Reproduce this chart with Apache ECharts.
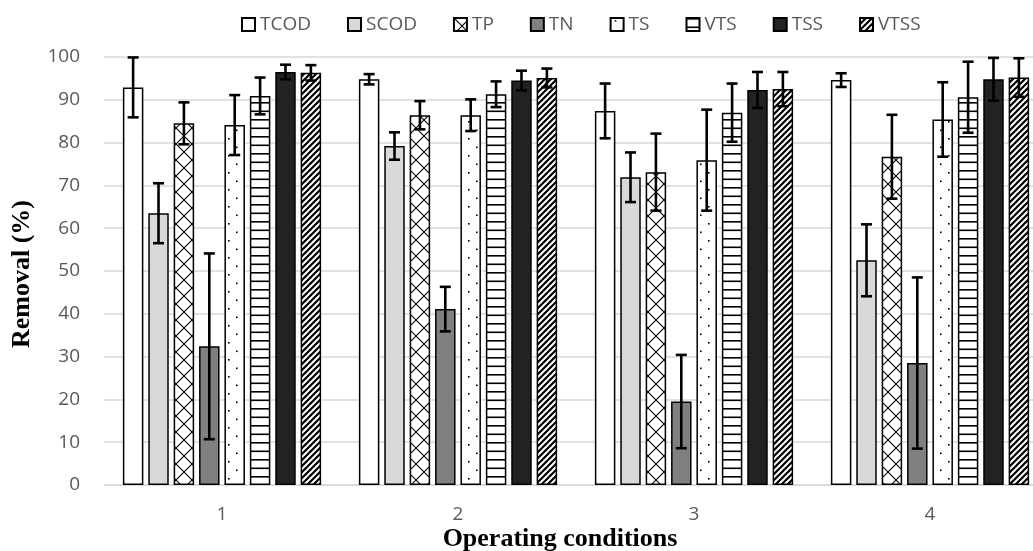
<!DOCTYPE html>
<html>
<head>
<meta charset="utf-8">
<script src="https://cdn.jsdelivr.net/npm/echarts@6/dist/echarts.min.js"></script>
<style>html,body{margin:0;padding:0;background:#fff;}#c{width:1033px;height:551px;}</style>
</head>
<body>
<div id="c"></div>
<script>
const categories = ['1', '2', '3', '4'];
const seriesNames = ['TCOD', 'SCOD', 'TP', 'TN', 'TS', 'VTS', 'TSS', 'VTSS'];
const tcod = [92.9, 94.8, 87.4, 94.6];
const tcodErr = [7.0, 1.2, 6.4, 1.6];
const scod = [63.5, 79.2, 71.9, 52.5];
const scodErr = [7.0, 3.2, 5.8, 8.4];
const tp = [84.5, 86.4, 73.1, 76.7];
const tpErr = [4.9, 3.3, 9.0, 9.8];
const tn = [32.4, 41.1, 19.5, 28.5];
const tnErr = [21.7, 5.2, 10.9, 20.0];
const ts = [84.1, 86.4, 75.9, 85.4];
const tsErr = [7.0, 3.7, 11.8, 8.7];
const vts = [90.9, 91.3, 87.0, 90.6];
const vtsErr = [4.3, 3.0, 6.8, 8.3];
const tss = [96.5, 94.5, 92.3, 94.8];
const tssErr = [1.7, 2.3, 4.2, 5.0];
const vtss = [96.3, 95.1, 92.5, 95.2];
const vtssErr = [1.8, 2.2, 4.0, 4.5];
const yTicks = [0, 10, 20, 30, 40, 50, 60, 70, 80, 90, 100];

const values = [tcod, scod, tp, tn, ts, vts, tss, vtss];
const errors = [tcodErr, scodErr, tpErr, tnErr, tsErr, vtsErr, tssErr, vtssErr];

function tile(w, h, draw) {
  const c = document.createElement('canvas');
  c.width = w; c.height = h;
  const ctx = c.getContext('2d');
  ctx.fillStyle = '#fff';
  ctx.fillRect(0, 0, w, h);
  ctx.fillStyle = '#000';
  ctx.strokeStyle = '#000';
  draw(ctx);
  return { image: c, repeat: 'repeat' };
}
const crossPat = tile(16, 16, ctx => {
  ctx.lineWidth = 1.1;
  ctx.beginPath();
  ctx.moveTo(-2, -2); ctx.lineTo(18, 18);
  ctx.moveTo(18, -2); ctx.lineTo(-2, 18);
  ctx.stroke();
});
const dotPat = tile(16, 17, ctx => {
  ctx.fillRect(4, 2, 1.6, 1.6);
  ctx.fillRect(12, 10.5, 1.6, 1.6);
});
const hLinePat = tile(4, 17, ctx => {
  ctx.fillRect(0, 0, 4, 1.6);
  ctx.fillRect(0, 8.5, 4, 1.6);
});
const diagPat = tile(6, 6, ctx => {
  ctx.lineWidth = 2.2;
  ctx.beginPath();
  [0, 6, 12].forEach(c => { ctx.moveTo(c + 2, -2); ctx.lineTo(c - 8, 8); });
  ctx.stroke();
});

const fills = ['#ffffff', '#d9d9d9', crossPat, '#808080', dotPat, hLinePat, '#222222', diagPat];

const catGap = 0.16, barGapP = 0.24;

const barSeries = seriesNames.map((name, i) => ({
  name: name,
  type: 'bar',
  data: values[i],
  barCategoryGap: (catGap * 100) + '%',
  barGap: (barGapP * 100) + '%',
  itemStyle: { color: fills[i], borderColor: '#000', borderWidth: 1.5 },
  emphasis: { disabled: true },
  z: 2
}));

const errData = [];
values.forEach((arr, si) => arr.forEach((v, ci) => errData.push([ci, si, v, errors[si][ci]])));

const errSeries = {
  type: 'custom',
  name: 'err',
  z: 10,
  silent: true,
  encode: { x: 0, y: 2 },
  data: errData,
  renderItem: function (params, api) {
    const ci = api.value(0), si = api.value(1), v = api.value(2), e = api.value(3);
    const center = api.coord([ci, 0])[0];
    const cw = api.size([1, 0])[0];
    const band = cw * (1 - catGap);
    const n = seriesNames.length;
    const w = band / (n + (n - 1) * barGapP);
    const x = center - band / 2 + si * w * (1 + barGapP) + w / 2;
    const yTop = api.coord([ci, v + e])[1];
    const yBot = api.coord([ci, v - e])[1];
    const cap = 5.5;
    const st = { stroke: '#000', lineWidth: 2.6 };
    return {
      type: 'group',
      children: [
        { type: 'line', shape: { x1: x, y1: yTop, x2: x, y2: yBot }, style: st },
        { type: 'line', shape: { x1: x - cap, y1: yTop, x2: x + cap, y2: yTop }, style: st },
        { type: 'line', shape: { x1: x - cap, y1: yBot, x2: x + cap, y2: yBot }, style: st }
      ]
    };
  }
};

const chart = echarts.init(document.getElementById('c'), null, { renderer: 'canvas' });
chart.setOption({
  animation: false,
  backgroundColor: '#fff',
  legend: {
    data: seriesNames,
    left: 236,
    top: 10,
    icon: 'rect',
    itemWidth: 13,
    itemHeight: 13,
    itemGap: 36,
    selectedMode: false,
    textStyle: { fontFamily: 'Open Sans', fontSize: 19, color: '#595959', padding: [0, 0, 0, 0] }
  },
  grid: { left: 104, width: 944, top: 57, bottom: 66, containLabel: false, outerBoundsMode: 'none' },
  xAxis: {
    type: 'category',
    data: categories,
    axisLine: { lineStyle: { color: '#d9d9d9', width: 1.5 } },
    axisTick: { show: false },
    axisLabel: { fontFamily: 'Open Sans', fontSize: 19, color: '#595959', margin: 20 }
  },
  yAxis: {
    type: 'value',
    min: yTicks[0],
    max: yTicks[yTicks.length - 1],
    interval: yTicks[1] - yTicks[0],
    axisLine: { show: false },
    axisTick: { show: false },
    splitLine: { lineStyle: { color: '#d9d9d9', width: 1.5 } },
    axisLabel: { fontFamily: 'Open Sans', fontSize: 19, color: '#595959', margin: 24 }
  },
  graphic: [
    {
      type: 'text', x: 560, y: 539,
      style: { text: 'Operating conditions', fontFamily: 'Liberation Serif', fontWeight: 'bold', fontSize: 26, fill: '#000', align: 'center', verticalAlign: 'middle' }
    },
    {
      type: 'text', x: 22, y: 274, rotation: Math.PI / 2,
      style: { text: 'Removal (%)', fontFamily: 'Liberation Serif', fontWeight: 'bold', fontSize: 26, fill: '#000', align: 'center', verticalAlign: 'middle' }
    }
  ],
  series: barSeries.concat([errSeries])
});
</script>
</body>
</html>
